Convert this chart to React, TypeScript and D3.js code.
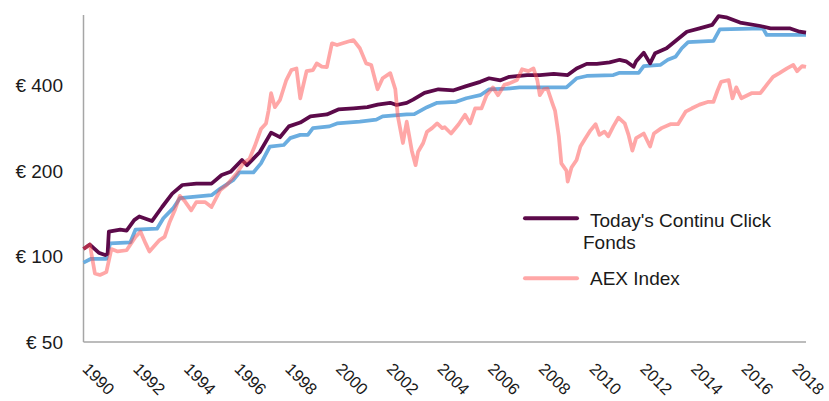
import React from 'react';
import * as d3 from 'd3';

// [decimal year, value in €]
const fundSeries: [number, number][] = [
  [1990.0, 106], [1990.25, 110], [1990.6, 103], [1990.85, 101], [1990.95, 102], [1991.0, 122],
  [1991.45, 124], [1991.7, 123], [1992.0, 134], [1992.2, 138], [1992.7, 133], [1993.1, 149],
  [1993.5, 166], [1993.9, 178], [1994.45, 180], [1995.05, 180], [1995.45, 193], [1995.8, 198],
  [1996.25, 218], [1996.45, 209], [1996.95, 232], [1997.4, 272], [1997.75, 262], [1998.1, 286],
  [1998.55, 295], [1998.95, 310], [1999.6, 315], [2000.05, 328], [2000.65, 331], [2001.2, 334],
  [2001.6, 341], [2002.1, 346], [2002.35, 340], [2002.75, 346], [2003.0, 355], [2003.45, 375],
  [2004.0, 386], [2004.6, 383], [2005.1, 396], [2005.65, 410], [2006.0, 422], [2006.45, 415],
  [2006.8, 427], [2007.5, 433], [2008.0, 433], [2008.55, 437], [2009.1, 433], [2009.45, 457],
  [2009.85, 474], [2010.25, 474], [2010.75, 480], [2011.15, 490], [2011.4, 484], [2011.7, 463],
  [2011.8, 484], [2012.1, 519], [2012.35, 476], [2012.55, 517], [2013.0, 538], [2013.4, 575],
  [2013.8, 615], [2014.3, 632], [2014.8, 650], [2015.05, 698], [2015.35, 691], [2015.9, 662],
  [2016.7, 644], [2017.1, 632], [2017.85, 632], [2018.25, 615], [2018.5, 610],
];

const benchmarkSeries: [number, number][] = [
  [1990.0, 95], [1990.3, 98], [1990.9, 98], [1991.05, 111], [1991.85, 112], [1992.05, 124],
  [1992.9, 125], [1993.15, 136], [1993.55, 148], [1993.8, 160], [1995.05, 164], [1995.4, 173],
  [1995.9, 185], [1996.15, 197], [1996.7, 197], [1997.0, 212], [1997.35, 243], [1997.9, 246],
  [1998.15, 260], [1998.55, 267], [1998.85, 267], [1999.05, 282], [1999.7, 286], [2000.0, 293],
  [2000.9, 297], [2001.55, 302], [2001.8, 310], [2002.75, 315], [2003.05, 316], [2003.55, 334],
  [2003.95, 346], [2004.7, 349], [2005.1, 359], [2005.65, 368], [2006.0, 386], [2006.7, 388],
  [2007.2, 392], [2009.05, 392], [2009.45, 422], [2009.85, 430], [2010.9, 433], [2011.15, 441],
  [2011.9, 441], [2012.1, 466], [2012.75, 470], [2013.05, 490], [2013.35, 502], [2013.6, 538],
  [2013.85, 565], [2014.85, 571], [2015.1, 627], [2016.8, 632], [2016.95, 599], [2018.5, 599],
];

const aexSeries: [number, number][] = [
  [1990.0, 106], [1990.25, 110], [1990.45, 87], [1990.65, 86], [1990.9, 88], [1991.1, 106],
  [1991.35, 104], [1991.7, 105], [1992.05, 117], [1992.25, 122], [1992.45, 111], [1992.6, 104],
  [1993.0, 114], [1993.2, 117], [1993.4, 132], [1993.6, 145], [1993.8, 163], [1994.0, 156],
  [1994.25, 145], [1994.45, 155], [1994.8, 155], [1995.05, 149], [1995.4, 171], [1995.65, 178],
  [1996.05, 196], [1996.3, 212], [1996.55, 220], [1996.75, 243], [1997.0, 280], [1997.2, 293],
  [1997.3, 325], [1997.4, 374], [1997.55, 334], [1997.75, 354], [1998.0, 416], [1998.2, 451],
  [1998.4, 457], [1998.55, 359], [1998.8, 447], [1999.05, 451], [1999.2, 476], [1999.4, 464],
  [1999.6, 462], [1999.8, 560], [2000.0, 552], [2000.45, 568], [2000.65, 575], [2000.9, 538],
  [2001.15, 476], [2001.35, 470], [2001.6, 386], [2001.8, 422], [2002.1, 440], [2002.3, 386],
  [2002.4, 310], [2002.6, 250], [2002.75, 297], [2002.95, 235], [2003.1, 209], [2003.2, 233],
  [2003.4, 250], [2003.55, 274], [2003.75, 282], [2003.95, 293], [2004.15, 282], [2004.25, 284],
  [2004.5, 270], [2004.8, 291], [2005.05, 314], [2005.25, 293], [2005.45, 331], [2005.7, 331],
  [2005.9, 368], [2006.15, 392], [2006.35, 368], [2006.6, 400], [2006.8, 405], [2007.1, 416],
  [2007.3, 454], [2007.55, 447], [2007.75, 457], [2007.9, 416], [2008.0, 368], [2008.15, 386],
  [2008.3, 388], [2008.5, 344], [2008.6, 325], [2008.75, 264], [2008.85, 212], [2009.05, 200],
  [2009.1, 183], [2009.25, 205], [2009.45, 218], [2009.6, 243], [2009.8, 260], [2010.0, 277],
  [2010.2, 291], [2010.35, 267], [2010.55, 274], [2010.7, 264], [2010.9, 286], [2011.1, 307],
  [2011.35, 293], [2011.5, 267], [2011.65, 235], [2011.8, 260], [2012.1, 270], [2012.35, 243],
  [2012.5, 270], [2012.8, 282], [2013.15, 291], [2013.45, 291], [2013.75, 322], [2014.0, 331],
  [2014.3, 341], [2014.65, 349], [2014.85, 349], [2015.0, 380], [2015.15, 410], [2015.45, 416],
  [2015.6, 359], [2015.75, 392], [2015.95, 359], [2016.35, 374], [2016.7, 374], [2016.95, 400],
  [2017.2, 427], [2017.45, 440], [2017.75, 457], [2018.0, 470], [2018.15, 447], [2018.35, 466],
  [2018.5, 463],
];

const yearTicks = [1990, 1992, 1994, 1996, 1998, 2000, 2002, 2004, 2006, 2008, 2010, 2012, 2014, 2016, 2018];
const valueTicks = [50, 100, 200, 400];
const legendLabels = [["Today's Continu Click", 'Fonds'], ['AEX Index']];

const font = '"Liberation Sans", Arial, sans-serif';

export default function App() {
  const margin = {left: 83.5, top: 15, right: 23, bottom: 59};
  const width = 829, height = 401;

  const x = d3.scaleLinear().domain([1990, 2018.5]).range([margin.left, width - margin.right]);
  const y = d3.scaleLog().base(2).domain([50, 704]).range([height - margin.bottom, margin.top]);

  const line = d3.line<[number, number]>()
    .x(d => x(d[0]))
    .y(d => y(d[1]));

  const axisY = y(50);

  return (
    <svg width={width} height={height} style={{position: 'absolute', left: 0, top: 0}}
      fontFamily={font} fontSize={19} fill='#1a1a1a'>
      <rect width={width} height={height} fill='#fff' />

      {/* axes */}
      <line x1={margin.left} x2={margin.left} y1={margin.top} y2={axisY} stroke='#a6a6a6' strokeWidth={1.5} />
      <line x1={margin.left} x2={x(2018.5)} y1={axisY} y2={axisY} stroke='#a6a6a6' strokeWidth={1.5} />

      {valueTicks.map(v => (
        <text key={v} x={63} y={y(v) + 7} textAnchor='end'>{'\u20ac ' + v}</text>
      ))}

      {yearTicks.map(yr => (
        <text key={yr} fontSize={16.5} transform={'translate(' + (x(yr) - 2) + ',370) rotate(45)'}>{yr}</text>
      ))}

      {/* series */}
      <path d={line(benchmarkSeries) || ''} fill='none' stroke='#6aade0' strokeWidth={3.75} strokeLinejoin='round' />
      <path d={line(fundSeries) || ''} fill='none' stroke='#5c0a4a' strokeWidth={3.75} strokeLinejoin='round' />
      <path d={line(aexSeries) || ''} fill='none' stroke='rgba(255,80,80,0.5)' strokeWidth={3.75} strokeLinejoin='round' />

      {/* legend */}
      <line x1={525} x2={577} y1={218.3} y2={218.3} stroke='#5c0a4a' strokeWidth={4} strokeLinecap='round' />
      <text x={590} y={226.7}>{legendLabels[0][0]}</text>
      <text x={583} y={249.3}>{legendLabels[0][1]}</text>
      <line x1={525} x2={577} y1={278.3} y2={278.3} stroke='rgba(255,80,80,0.5)' strokeWidth={4} strokeLinecap='round' />
      <text x={590} y={285}>{legendLabels[1][0]}</text>
    </svg>
  );
}
